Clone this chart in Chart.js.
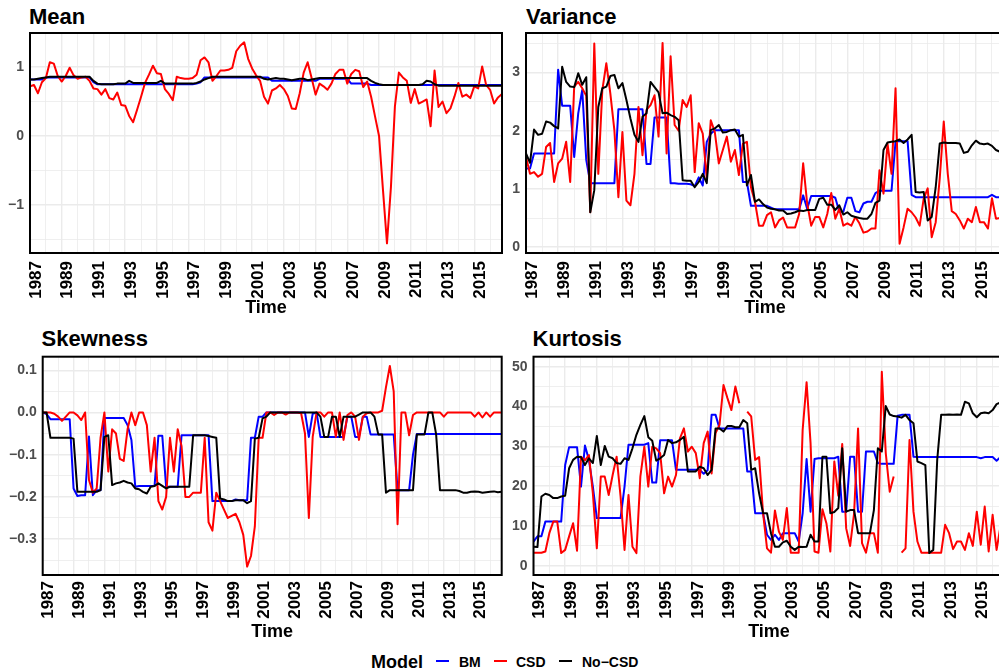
<!DOCTYPE html>
<html lang="en">
<head>
<meta charset="UTF-8">
<title>Mean, Variance, Skewness, Kurtosis</title>
<script src="https://cdn.jsdelivr.net/npm/chart.js@4.4.1/dist/chart.umd.min.js"></script>
<style>
    html, body { margin: 0; padding: 0; background: #ffffff; }
    body { position: relative; width: 999px; height: 672px; overflow: hidden;
           font-family: "Liberation Sans", Arial, sans-serif; }
    canvas { position: absolute; }
    .titulo { position: absolute; font-size: 22px; line-height: 22px; font-weight: bold; color: #000; white-space: nowrap; }
    .ley { position: absolute; font-size: 14px; line-height: 14px; font-weight: bold; color: #000; white-space: nowrap; }
    .clave { position: absolute; width: 13px; height: 2px; }
</style>
</head>
<body>

<div class="titulo" style="left:29px; top:6px;">Mean</div>
<div class="titulo" style="left:526px; top:6px;">Variance</div>
<div class="titulo" style="left:41.5px; top:328px;">Skewness</div>
<div class="titulo" style="left:532.5px; top:328px;">Kurtosis</div>

<canvas id="graficaMean" width="510" height="300" style="left:0px; top:28px;"></canvas>
<canvas id="graficaVariance" width="512" height="300" style="left:500px; top:28px;"></canvas>
<canvas id="graficaSkewness" width="510" height="300" style="left:0px; top:352px;"></canvas>
<canvas id="graficaKurtosis" width="512" height="300" style="left:500px; top:352px;"></canvas>

<!-- Leyenda -->
<div class="ley" style="left:371px; top:652.5px; font-size:18px; line-height:18px;">Model</div>
<div class="clave" style="left:436px; top:660px; background:#0000ff;"></div>
<div class="ley" style="left:459px; top:655px;">BM</div>
<div class="clave" style="left:494px; top:660px; background:#ff0000;"></div>
<div class="ley" style="left:516px; top:655px;">CSD</div>
<div class="clave" style="left:559px; top:660px; background:#000000;"></div>
<div class="ley" style="left:582px; top:655px;">No−CSD</div>

<script>
// ================= DATOS =================
// trimestres 1987 T1 ... 2016 T4
const tiempo = [];
for (let i = 0; i < 120; i++) tiempo.push(1987 + i / 4);

const anios = [1987, 1988, 1989, 1990, 1991, 1992, 1993, 1994, 1995, 1996,
               1997, 1998, 1999, 2000, 2001, 2002, 2003, 2004, 2005, 2006,
               2007, 2008, 2009, 2010, 2011, 2012, 2013, 2014, 2015, 2016];

// --- Mean ---
const meanBM = [
    0.82, 0.82, 0.82, 0.82, 0.85, 0.85, 0.85, 0.85, 0.85, 0.85,
    0.85, 0.85, 0.85, 0.85, 0.85, 0.85, 0.78, 0.75, 0.75, 0.75,
    0.75, 0.75, 0.75, 0.75, 0.75, 0.75, 0.75, 0.75, 0.75, 0.75,
    0.75, 0.75, 0.75, 0.75, 0.75, 0.75, 0.75, 0.75, 0.75, 0.75,
    0.75, 0.75, 0.76, 0.78, 0.85, 0.85, 0.85, 0.85, 0.85, 0.85,
    0.85, 0.85, 0.85, 0.85, 0.85, 0.85, 0.85, 0.85, 0.85, 0.85,
    0.85, 0.80, 0.80, 0.80, 0.80, 0.80, 0.80, 0.80, 0.80, 0.80,
    0.80, 0.80, 0.80, 0.83, 0.83, 0.83, 0.83, 0.83, 0.83, 0.83,
    0.83, 0.76, 0.76, 0.76, 0.76, 0.76, 0.74, 0.74, 0.74, 0.74,
    0.74, 0.74, 0.74, 0.74, 0.74, 0.74, 0.74, 0.74, 0.74, 0.74,
    0.74, 0.74, 0.74, 0.74, 0.74, 0.74, 0.74, 0.74, 0.74, 0.74,
    0.74, 0.74, 0.74, 0.74, 0.74, 0.74, 0.74, 0.74, 0.74, 0.74
];
const meanCSD = [
    0.72, 0.74, 0.62, 0.78, 0.84, 1.07, 1.05, 0.87, 0.79, 0.87,
    0.99, 0.88, 0.83, 0.85, 0.86, 0.80, 0.69, 0.68, 0.60, 0.68,
    0.55, 0.53, 0.63, 0.45, 0.44, 0.29, 0.20, 0.38, 0.57, 0.77,
    0.89, 1.02, 0.91, 0.90, 0.68, 0.61, 0.52, 0.86, 0.84, 0.83,
    0.83, 0.84, 0.89, 1.10, 1.14, 1.07, 0.80, 0.87, 0.95, 0.95,
    0.96, 0.99, 1.23, 1.31, 1.36, 1.12, 0.98, 0.88, 0.80, 0.57,
    0.47, 0.66, 0.69, 0.74, 0.68, 0.58, 0.40, 0.39, 0.62, 0.92,
    1.07, 0.84, 0.60, 0.76, 0.72, 0.67, 0.76, 0.90, 0.96, 0.96,
    0.76, 0.90, 0.96, 0.94, 0.71, 0.79, 0.57, 0.28, 0.00, -0.79,
    -1.56, -0.74, 0.43, 0.92, 0.85, 0.80, 0.48, 0.68, 0.47, 0.50,
    0.53, 0.14, 0.95, 0.42, 0.50, 0.33, 0.40, 0.57, 0.77, 0.57,
    0.60, 0.55, 0.72, 0.69, 1.01, 0.74, 0.67, 0.47, 0.56, 0.61
];
const meanNoCSD = [
    0.82, 0.82, 0.83, 0.84, 0.85, 0.86, 0.86, 0.86, 0.86, 0.86,
    0.86, 0.86, 0.86, 0.86, 0.86, 0.86, 0.80, 0.76, 0.75, 0.75,
    0.75, 0.75, 0.76, 0.76, 0.76, 0.80, 0.77, 0.77, 0.77, 0.77,
    0.77, 0.77, 0.77, 0.80, 0.76, 0.76, 0.76, 0.76, 0.76, 0.76,
    0.76, 0.76, 0.77, 0.79, 0.82, 0.84, 0.86, 0.86, 0.86, 0.86,
    0.86, 0.86, 0.86, 0.86, 0.86, 0.86, 0.86, 0.86, 0.86, 0.83,
    0.82, 0.83, 0.84, 0.83, 0.83, 0.82, 0.81, 0.82, 0.83, 0.83,
    0.81, 0.82, 0.83, 0.84, 0.84, 0.84, 0.84, 0.84, 0.84, 0.84,
    0.84, 0.84, 0.84, 0.84, 0.84, 0.84, 0.80, 0.77, 0.75, 0.74,
    0.74, 0.74, 0.74, 0.74, 0.74, 0.74, 0.74, 0.74, 0.74, 0.75,
    0.80, 0.79, 0.75, 0.73, 0.73, 0.73, 0.73, 0.73, 0.73, 0.73,
    0.73, 0.73, 0.73, 0.73, 0.73, 0.73, 0.73, 0.73, 0.73, 0.73
];

// --- Variance ---
const varBM = [
    1.35, 1.35, 1.61, 1.61, 1.61, 1.61, 1.61, 1.61, 3.05, 2.43,
    2.43, 2.43, 1.55, 2.30, 2.70, 1.50, 1.10, 1.10, 1.10, 1.10,
    1.10, 1.10, 1.10, 2.37, 2.37, 2.37, 2.37, 2.37, 2.37, 2.37,
    1.43, 1.43, 2.23, 2.23, 2.23, 2.23, 1.10, 1.10, 1.09, 1.09,
    1.09, 1.08, 1.05, 1.20, 1.06, 1.81, 1.95, 2.01, 2.01, 2.01,
    2.01, 2.01, 2.01, 2.01, 1.12, 1.12, 0.71, 0.71, 0.71, 0.71,
    0.71, 0.68, 0.65, 0.65, 0.65, 0.65, 0.65, 0.65, 0.65, 0.89,
    0.66, 0.88, 0.88, 0.88, 0.88, 0.88, 0.88, 0.85, 0.61, 0.61,
    0.85, 0.85, 0.62, 0.60, 0.75, 0.78, 0.78, 0.93, 0.97, 0.97,
    0.97, 0.97, 1.82, 1.82, 1.82, 1.82, 0.90, 0.86, 0.86, 0.86,
    0.86, 0.86, 0.86, 0.86, 0.86, 0.86, 0.86, 0.86, 0.86, 0.86,
    0.86, 0.86, 0.86, 0.86, 0.86, 0.86, 0.90, 0.86, 0.86, 0.86
];
const varCSD = [
    1.55, 1.26, 1.29, 1.21, 1.26, 1.72, 1.79, 1.12, 1.44, 1.52,
    1.81, 1.12, 2.76, 2.84, 2.73, 2.60, 0.60, 3.50, 1.26, 2.70,
    3.16, 2.64, 2.01, 0.86, 1.98, 0.80, 0.72, 1.26, 2.41, 1.58,
    2.36, 2.44, 2.61, 1.90, 3.51, 1.61, 3.28, 2.10, 2.00, 2.53,
    2.41, 2.61, 1.29, 2.13, 1.95, 1.18, 2.18, 1.98, 1.44, 1.67,
    1.90, 1.47, 1.67, 1.24, 1.78, 1.81, 1.03, 0.78, 0.37, 0.37,
    0.55, 0.60, 0.34, 0.46, 0.51, 0.34, 0.34, 0.34, 0.57, 1.44,
    0.75, 0.37, 0.52, 0.52, 0.34, 0.57, 0.93, 0.49, 0.66, 0.37,
    0.41, 0.37, 0.52, 0.41, 0.25, 0.27, 0.32, 0.32, 1.32, 0.92,
    1.78, 1.26, 2.73, 0.06, 0.34, 0.66, 0.60, 0.51, 0.37, 0.83,
    1.01, 0.17, 0.43, 1.18, 2.16, 1.26, 0.62, 0.57, 0.46, 0.32,
    0.49, 0.43, 0.69, 0.43, 0.43, 0.32, 0.84, 0.49, 0.50, 0.45
];
const varNoCSD = [
    1.61, 1.45, 2.02, 1.93, 1.95, 2.16, 2.14, 2.08, 2.04, 3.10,
    2.84, 2.76, 2.75, 2.99, 2.79, 2.92, 0.60, 0.98, 2.41, 2.73,
    2.76, 2.94, 2.96, 2.73, 2.82, 2.53, 2.21, 1.93, 1.81, 2.24,
    2.30, 2.84, 2.75, 2.66, 2.30, 2.31, 2.27, 2.24, 2.18, 1.15,
    1.14, 1.14, 1.03, 1.12, 1.26, 1.10, 2.01, 2.04, 2.10, 1.97,
    1.98, 2.01, 2.02, 1.90, 1.93, 1.06, 1.24, 0.78, 0.82, 0.74,
    0.68, 0.66, 0.65, 0.63, 0.63, 0.57, 0.58, 0.60, 0.63, 0.62,
    0.64, 0.64, 0.64, 0.83, 0.85, 0.73, 0.73, 0.64, 0.72, 0.56,
    0.60, 0.54, 0.52, 0.50, 0.49, 0.49, 0.57, 0.76, 0.80, 1.67,
    1.80, 1.81, 1.82, 1.85, 1.79, 1.85, 1.93, 0.95, 0.94, 0.95,
    0.46, 0.52, 1.03, 1.78, 1.80, 1.79, 1.79, 1.79, 1.78, 1.62,
    1.64, 1.75, 1.83, 1.78, 1.77, 1.78, 1.74, 1.67, 1.64, 1.62
];

// --- Skewness ---
const skewBM = [
    0.000, -0.004, -0.016, -0.016, -0.016, -0.016, -0.016, -0.016, -0.180, -0.198,
    -0.196, -0.196, -0.057, -0.196, -0.184, -0.184, -0.013, -0.013, -0.013, -0.013,
    -0.013, -0.013, -0.030, -0.065, -0.176, -0.174, -0.174, -0.174, -0.174, -0.174,
    -0.055, -0.055, -0.176, -0.176, -0.176, -0.176, -0.054, -0.054, -0.054, -0.054,
    -0.054, -0.054, -0.054, -0.054, -0.210, -0.210, -0.210, -0.210, -0.210, -0.210,
    -0.206, -0.208, -0.208, -0.208, -0.060, -0.060, -0.010, -0.010, 0.000, 0.000,
    0.000, 0.000, 0.000, 0.000, 0.000, 0.000, 0.000, 0.000, 0.000, -0.058,
    -0.003, 0.000, -0.058, -0.058, -0.058, -0.058, -0.058, -0.058, -0.058, -0.010,
    -0.010, -0.058, -0.058, -0.010, -0.010, -0.052, -0.052, -0.052, -0.052, -0.052,
    -0.052, -0.052, -0.184, -0.184, -0.184, -0.184, -0.100, -0.051, -0.051, -0.051,
    -0.051, -0.051, -0.051, -0.051, -0.051, -0.051, -0.051, -0.051, -0.051, -0.051,
    -0.051, -0.051, -0.051, -0.051, -0.051, -0.051, -0.051, -0.051, -0.051, -0.051
];
const skewCSD = [
    0.000, 0.000, 0.000, -0.003, -0.010, -0.020, -0.010, 0.000, 0.000, -0.007,
    -0.018, 0.000, -0.160, -0.190, -0.180, -0.060, 0.000, -0.140, -0.040, -0.050,
    -0.110, -0.115, -0.040, 0.000, -0.030, 0.000, 0.000, -0.030, -0.140, -0.060,
    -0.210, -0.230, -0.200, -0.060, -0.140, -0.040, -0.080, -0.200, -0.200, -0.190,
    -0.190, -0.190, -0.060, -0.260, -0.280, -0.190, -0.210, -0.230, -0.250, -0.245,
    -0.240, -0.260, -0.290, -0.365, -0.340, -0.270, -0.060, -0.060, 0.000, 0.000,
    -0.006, 0.000, 0.000, -0.005, 0.000, 0.000, 0.000, -0.002, -0.050, -0.250,
    -0.058, 0.000, 0.000, -0.010, 0.000, 0.000, -0.058, 0.000, -0.065, -0.006,
    0.000, -0.010, -0.065, -0.010, -0.002, 0.000, 0.000, 0.000, 0.004, 0.060,
    0.110, 0.050, -0.265, 0.000, 0.000, -0.054, -0.006, 0.000, 0.000, 0.000,
    0.000, 0.000, 0.000, 0.000, -0.010, 0.000, 0.000, 0.000, 0.000, 0.000,
    0.000, 0.000, -0.010, 0.000, -0.012, 0.000, -0.010, 0.000, 0.000, 0.000
];
const skewNoCSD = [
    0.000, 0.000, -0.060, -0.060, -0.060, -0.060, -0.060, -0.060, -0.062, -0.188,
    -0.188, -0.188, -0.188, -0.188, -0.188, -0.184, -0.058, -0.054, -0.172, -0.168,
    -0.166, -0.162, -0.166, -0.168, -0.180, -0.182, -0.188, -0.192, -0.176, -0.174,
    -0.168, -0.174, -0.180, -0.176, -0.176, -0.176, -0.176, -0.176, -0.176, -0.054,
    -0.054, -0.054, -0.054, -0.056, -0.058, -0.060, -0.204, -0.206, -0.210, -0.210,
    -0.208, -0.208, -0.208, -0.215, -0.210, -0.062, -0.060, -0.014, -0.010, 0.000,
    0.000, 0.000, 0.000, 0.000, 0.000, 0.000, 0.000, 0.000, 0.000, 0.000,
    0.000, 0.000, -0.010, -0.058, -0.058, -0.010, -0.010, -0.058, -0.010, -0.010,
    -0.010, -0.010, -0.005, 0.000, 0.000, 0.000, -0.010, -0.052, -0.052, -0.190,
    -0.184, -0.184, -0.184, -0.184, -0.184, -0.184, -0.184, -0.052, -0.052, -0.052,
    0.000, 0.000, -0.052, -0.184, -0.184, -0.184, -0.184, -0.184, -0.186, -0.190,
    -0.190, -0.188, -0.187, -0.188, -0.190, -0.189, -0.188, -0.187, -0.189, -0.188
];

// --- Kurtosis ---
const kurtBM = [
    6.1, 7.4, 7.4, 11.1, 11.1, 11.1, 11.1, 11.1, 25.3, 29.8,
    29.8, 29.8, 19.9, 30.2, 26.6, 19.9, 12.0, 12.0, 12.0, 12.0,
    12.0, 12.0, 12.0, 19.9, 30.4, 30.4, 30.4, 30.4, 30.4, 30.8,
    20.9, 20.9, 31.5, 31.5, 31.5, 31.5, 24.1, 24.1, 24.1, 24.1,
    24.1, 24.1, 24.1, 23.1, 24.0, 37.9, 37.9, 34.5, 34.5, 34.5,
    34.5, 34.5, 34.5, 34.5, 23.7, 23.7, 13.2, 13.2, 13.2, 7.8,
    6.5, 7.8, 6.5, 8.2, 8.2, 8.2, 8.2, 6.1, 13.2, 26.8,
    13.6, 26.8, 27.0, 27.0, 27.0, 27.0, 27.0, 27.4, 13.6, 13.6,
    27.4, 27.4, 13.6, 13.6, 28.7, 28.7, 28.7, 25.8, 25.6, 25.6,
    25.6, 25.6, 37.7, 37.9, 37.9, 37.9, 27.4, 27.3, 27.3, 27.3,
    27.3, 27.3, 27.3, 27.3, 27.3, 27.3, 27.3, 27.3, 27.3, 27.3,
    27.3, 27.3, 27.3, 27.0, 27.3, 27.3, 27.3, 26.4, 27.3, 27.3
];
const kurtCSD = [
    3.3, 3.3, 3.3, 3.6, 8.2, 11.1, 11.1, 3.2, 4.0, 7.4,
    10.7, 3.8, 27.4, 26.5, 27.8, 18.2, 4.4, 22.4, 22.4, 17.8,
    22.8, 27.4, 17.4, 4.0, 17.8, 4.8, 3.2, 22.4, 29.9, 19.9,
    29.9, 29.5, 28.3, 18.2, 22.4, 19.9, 22.8, 32.0, 34.5, 28.7,
    29.9, 28.3, 22.0, 30.8, 33.7, 23.2, 33.3, 35.4, 45.4, 42.1,
    39.1, 45.0, 40.8, null, 38.7, 37.5, 26.6, 27.3, 13.2, 4.4,
    3.3, 13.9, 8.6, 6.5, 14.5, 3.3, 3.3, 3.3, 34.1, 46.1,
    30.8, 3.6, 3.3, 14.2, 10.7, 3.6, 26.2, 17.6, 30.6, 9.4,
    5.0, 13.2, 34.5, 5.7, 3.3, 8.2, 8.2, 3.3, 48.7, 28.3,
    18.6, 22.4, null, 3.3, 4.4, 31.6, 13.6, 6.1, 3.3, 3.3,
    3.3, 3.3, 3.3, 3.3, 10.3, 8.2, 4.2, 6.1, 6.1, 4.0,
    8.2, 5.0, 13.6, 5.3, 14.9, 3.6, 12.8, 4.0, 10.0, 4.0
];
const kurtNoCSD = [
    4.8, 4.7, 17.4, 18.1, 17.8, 17.0, 17.0, 17.4, 17.6, 24.5,
    26.6, 27.4, 27.3, 25.3, 27.0, 25.8, 32.6, 25.3, 30.1, 27.4,
    27.0, 25.8, 25.6, 27.0, 26.6, 29.5, 32.9, 35.4, 37.6, 32.3,
    31.4, 26.4, 27.0, 27.8, 31.6, 30.8, 31.0, 31.6, 32.4, 23.7,
    23.7, 23.7, 24.9, 24.5, 22.8, 24.1, 34.5, 34.5, 33.7, 35.1,
    35.1, 34.8, 34.8, 36.6, 35.8, 24.1, 24.5, 18.2, 13.2, 13.2,
    8.2, 4.8, 4.8, 5.9, 6.3, 4.8, 4.0, 4.8, 4.7, 4.8,
    7.8, 6.1, 6.1, 27.4, 27.4, 13.2, 13.5, 14.5, 29.5, 13.6,
    14.0, 14.0, 8.2, 8.2, 8.2, 8.2, 14.0, 29.5, 28.7, 40.1,
    38.0, 37.6, 37.5, 37.2, 37.9, 36.6, 35.8, 26.2, 25.8, 25.3,
    3.2, 4.0, 26.6, 37.9, 37.9, 38.0, 37.9, 38.0, 37.9, 41.2,
    40.8, 38.3, 37.3, 38.3, 38.5, 38.3, 39.1, 40.6, 41.0, 41.0
];

// --- Marcas del eje y ---
const meanTicks = [-1, 0, 1];
const meanLabels = ['−1', '0', '1'];
const meanMinor = [-1.5, -0.5, 0.5];

const varTicks = [0, 1, 2, 3];
const varLabels = ['0', '1', '2', '3'];
const varMinor = [0.5, 1.5, 2.5, 3.5];

const skewTicks = [-0.3, -0.2, -0.1, 0, 0.1];
const skewLabels = ['−0.3', '−0.2', '−0.1', '0.0', '0.1'];
const skewMinor = [-0.35, -0.25, -0.15, -0.05, 0.05];

const kurtTicks = [0, 10, 20, 30, 40, 50];
const kurtLabels = ['0', '10', '20', '30', '40', '50'];
const kurtMinor = [5, 15, 25, 35, 45];

// ================= ESTILO GENERAL =================
Chart.defaults.font.family = "'Liberation Sans', Arial, sans-serif";

const GRIS_GRID = '#ebebeb';

// recuadro negro alrededor del area del panel
const marco = {
    id: 'marco',
    afterDraw(chart) {
        const { ctx, chartArea: a } = chart;
        ctx.save();
        ctx.strokeStyle = '#000000';
        ctx.lineWidth = 2;
        ctx.strokeRect(a.left, a.top, a.right - a.left, a.bottom - a.top);
        ctx.restore();
    }
};

const anchoGrid = c => (c.tick && c.tick.mayor) ? 1.4 : 0.8;

// ================= PANEL =================
function crearPanel(id, bm, csd, noCsd, eje) {
    const puntos = arr => arr.map((v, i) => ({ x: tiempo[i], y: v }));

    new Chart(document.getElementById(id), {
        type: 'line',
        data: {
            datasets: [
                { label: 'No−CSD', data: puntos(noCsd), borderColor: '#000000' },
                { label: 'CSD',    data: puntos(csd),   borderColor: '#ff0000' },
                { label: 'BM',     data: puntos(bm),    borderColor: '#0000ff' }
            ]
        },
        options: {
            responsive: false,
            animation: false,
            devicePixelRatio: 1,
            layout: { padding: eje.relleno },
            elements: {
                point: { radius: 0 },
                line: { borderWidth: 2, tension: 0, fill: false, borderJoinStyle: 'round' }
            },
            plugins: { legend: { display: false }, tooltip: { enabled: false } },
            scales: {
                x: {
                    type: 'linear',
                    min: 1987,
                    max: 2016.75,
                    afterBuildTicks: s => {
                        s.ticks = anios.map(a => ({ value: a, mayor: a % 2 === 1 }));
                    },
                    afterFit: s => { s.height = eje.altoX; s.paddingLeft = 0; s.paddingRight = 0; },
                    grid: { color: GRIS_GRID, lineWidth: anchoGrid, drawTicks: false },
                    border: { display: false },
                    ticks: {
                        autoSkip: false,
                        minRotation: 90,
                        maxRotation: 90,
                        padding: eje.padX,
                        labelOffset: 6,
                        color: '#000000',
                        font: { size: 17, weight: 'bold' },
                        callback: (v, i, t) => t[i].mayor ? String(t[i].value) : ''
                    },
                    title: {
                        display: true,
                        text: 'Time',
                        color: '#000000',
                        font: { size: 18, weight: 'bold' },
                        padding: { top: 0, bottom: 9 }
                    }
                },
                y: {
                    type: 'linear',
                    min: eje.min,
                    max: eje.max,
                    afterBuildTicks: s => {
                        s.ticks = eje.ticks.map((v, k) => ({ value: v, mayor: true, texto: eje.labels[k] }))
                            .concat(eje.minor.map(v => ({ value: v, mayor: false, texto: '' })));
                    },
                    afterFit: s => { s.width = eje.anchoY; s.paddingTop = 0; s.paddingBottom = 0; },
                    grid: { color: GRIS_GRID, lineWidth: anchoGrid, drawTicks: false },
                    border: { display: false },
                    ticks: {
                        autoSkip: false,
                        padding: 6,
                        color: '#4d4d4d',
                        font: { size: 14, weight: 'bold' },
                        callback: (v, i, t) => t[i].texto
                    }
                }
            }
        },
        plugins: [marco]
    });
}

// ================= INICIO =================
document.addEventListener('DOMContentLoaded', () => {
    crearPanel('graficaMean', meanBM, meanCSD, meanNoCSD, {
        min: -1.70, max: 1.495, ticks: meanTicks, labels: meanLabels, minor: meanMinor,
        anchoY: 30, altoX: 75, padX: 8, relleno: { top: 5, right: 8, left: 0, bottom: 0 }
    });
    crearPanel('graficaVariance', varBM, varCSD, varNoCSD, {
        min: -0.10, max: 3.68, ticks: varTicks, labels: varLabels, minor: varMinor,
        anchoY: 26, altoX: 75, padX: 8, relleno: { top: 5, right: 8, left: 0, bottom: 0 }
    });
    crearPanel('graficaSkewness', skewBM, skewCSD, skewNoCSD, {
        min: -0.385, max: 0.132, ticks: skewTicks, labels: skewLabels, minor: skewMinor,
        anchoY: 42.7, altoX: 77, padX: 6, relleno: { top: 4.7, right: 8.3, left: 0, bottom: 0 }
    });
    crearPanel('graficaKurtosis', kurtBM, kurtCSD, kurtNoCSD, {
        min: -2.3, max: 52.5, ticks: kurtTicks, labels: kurtLabels, minor: kurtMinor,
        anchoY: 33.5, altoX: 77, padX: 6, relleno: { top: 4.7, right: 7.5, left: 0, bottom: 0 }
    });
});
</script>
</body>
</html>
